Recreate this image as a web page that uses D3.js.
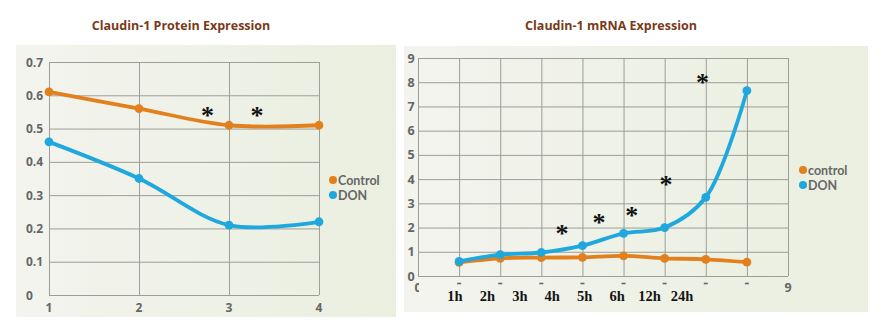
<!DOCTYPE html>
<html>
<head>
<meta charset="utf-8">
<script src="https://cdn.jsdelivr.net/npm/d3@7"></script>
<style>
  html, body { margin: 0; padding: 0; background: #ffffff; }
  svg { display: block; }
</style>
</head>
<body>
<svg id="chart" width="887" height="330"></svg>
<script>
// Claudin-1 protein expression (relative units) over four measurements
const proteinX = [1, 2, 3, 4];
const proteinControl = [0.61, 0.56, 0.51, 0.51];
const proteinDON = [0.46, 0.35, 0.21, 0.22];
const proteinTicksY = [0, 0.1, 0.2, 0.3, 0.4, 0.5, 0.6, 0.7];
const proteinStars = [[2.76, 0.55], [3.31, 0.55]];

// Claudin-1 mRNA expression (fold change) over the time course
const mrnaX = [1, 2, 3, 4, 5, 6, 7, 8];
const mrnaControl = [0.56, 0.73, 0.76, 0.77, 0.83, 0.73, 0.69, 0.57];
const mrnaDON = [0.6, 0.88, 0.97, 1.25, 1.76, 2.0, 3.25, 7.65];
const mrnaTicks = [0, 1, 2, 3, 4, 5, 6, 7, 8, 9];
const timeLabels = ["1h", "2h", "3h", "4h", "5h", "6h", "12h", "24h"];
const mrnaStars = [[3.5, 1.9], [4.4, 2.36], [5.2, 2.66], [6.03, 3.93], [6.92, 8.14]];

const ORANGE = "#e2801e";
const BLUE = "#1ea8dd";
const GRID = "#9c9e97";
const LABEL = "#666666";
const TITLE = "#7a3a18";

const svg = d3.select("#chart");

// panel backgrounds
const defs = svg.append("defs");
const grad = defs.append("linearGradient").attr("id", "panelFill")
  .attr("x1", "0%").attr("x2", "100%").attr("y1", "0%").attr("y2", "0%");
grad.append("stop").attr("offset", "0%").attr("stop-color", "#f3f4ee");
grad.append("stop").attr("offset", "100%").attr("stop-color", "#eaefdf");

svg.append("rect").attr("x", 16).attr("y", 45).attr("width", 380).attr("height", 272)
  .attr("fill", "url(#panelFill)");
svg.append("rect").attr("x", 404).attr("y", 46).attr("width", 464).attr("height", 266)
  .attr("fill", "url(#panelFill)");

// clip for the half-hidden zero on the mRNA x axis
defs.append("clipPath").attr("id", "zeroClip")
  .append("rect").attr("x", 405).attr("y", 275).attr("width", 14).attr("height", 25);

// titles
svg.append("text").attr("x", 181).attr("y", 30).attr("text-anchor", "middle")
  .attr("font-family", "'Open Sans', sans-serif").attr("font-weight", 700)
  .attr("font-size", 12.5).attr("fill", TITLE).text("Claudin-1 Protein Expression");
svg.append("text").attr("x", 611).attr("y", 30).attr("text-anchor", "middle")
  .attr("font-family", "'Open Sans', sans-serif").attr("font-weight", 700)
  .attr("font-size", 12.5).attr("fill", TITLE).text("Claudin-1 mRNA Expression");

function drawStars(g, stars, x, y) {
  g.selectAll("text.star").data(stars).join("text")
    .attr("class", "star")
    .attr("x", d => x(d[0])).attr("y", d => y(d[1]) + 12)
    .attr("text-anchor", "middle")
    .attr("font-family", "'Liberation Serif', serif").attr("font-weight", 700)
    .attr("font-size", 26).attr("fill", "#111").text("*");
}

function drawSeries(g, xs, ys, x, y, color) {
  const pts = xs.map((v, i) => [v, ys[i]]);
  g.append("path").datum(pts)
    .attr("fill", "none").attr("stroke", color).attr("stroke-width", 3.8)
    .attr("stroke-linecap", "round")
    .attr("d", d3.line().x(d => x(d[0])).y(d => y(d[1])).curve(d3.curveCatmullRom.alpha(0.5)));
  g.selectAll(null).data(pts).join("circle")
    .attr("cx", d => x(d[0])).attr("cy", d => y(d[1])).attr("r", 4.4).attr("fill", color);
}

function drawLegend(g, x0, y0, names) {
  const colors = [ORANGE, BLUE];
  names.forEach((n, i) => {
    g.append("circle").attr("cx", x0).attr("cy", y0 + i * 15).attr("r", 4).attr("fill", colors[i]);
    g.append("text").attr("x", x0 + 5).attr("y", y0 + i * 15 + 4.5)
      .attr("font-family", "Lato, sans-serif").attr("font-weight", 700)
      .attr("font-size", 12.5).attr("fill", LABEL).text(n);
  });
}

// ---- Protein chart ----
{
  const x = d3.scaleLinear().domain([1, 4]).range([49, 319]);
  const y = d3.scaleLinear().domain([0, 0.7]).range([295, 62]);
  const g = svg.append("g");

  g.append("g").attr("transform", "translate(49,0)")
    .call(d3.axisLeft(y).tickValues(proteinTicksY).tickSize(-270).tickFormat(""))
    .call(a => a.select(".domain").remove())
    .call(a => a.selectAll("line").attr("stroke", GRID));
  g.append("g").attr("transform", "translate(0,62)")
    .call(d3.axisBottom(x).tickValues(proteinX).tickSize(233).tickFormat(""))
    .call(a => a.select(".domain").remove())
    .call(a => a.selectAll("line").attr("stroke", GRID));

  g.selectAll("text.ylab").data(proteinTicksY).join("text")
    .attr("class", "ylab").attr("x", 26).attr("y", d => y(d) + 4.5)
    .attr("font-family", "'Open Sans', sans-serif").attr("font-weight", 700)
    .attr("font-size", 12).attr("fill", LABEL)
    .text(d => d === 0 ? "0" : d3.format(".1f")(d));
  g.selectAll("text.xlab").data(proteinX).join("text")
    .attr("class", "xlab").attr("x", d => x(d)).attr("y", 312)
    .attr("text-anchor", "middle")
    .attr("font-family", "'Open Sans', sans-serif").attr("font-weight", 700)
    .attr("font-size", 12).attr("fill", LABEL).text(d => d);

  drawSeries(g, proteinX, proteinControl, x, y, ORANGE);
  drawSeries(g, proteinX, proteinDON, x, y, BLUE);
  drawStars(g, proteinStars, x, y);
  drawLegend(g, 333, 180, ["Control", "DON"]);
}

// ---- mRNA chart ----
{
  const x = d3.scaleLinear().domain([0, 9]).range([418, 788]);
  const y = d3.scaleLinear().domain([0, 9]).range([276, 58]);
  const g = svg.append("g");

  g.append("g").attr("transform", "translate(418,0)")
    .call(d3.axisLeft(y).tickValues(mrnaTicks).tickSize(-370).tickFormat(""))
    .call(a => a.select(".domain").remove())
    .call(a => a.selectAll("line").attr("stroke", GRID));
  g.append("g").attr("transform", "translate(0,58)")
    .call(d3.axisBottom(x).tickValues(mrnaTicks).tickSize(218).tickFormat(""))
    .call(a => a.select(".domain").remove())
    .call(a => a.selectAll("line").attr("stroke", GRID));

  g.selectAll("text.ylab").data(mrnaTicks).join("text")
    .attr("class", "ylab").attr("x", 411).attr("y", d => y(d) + 4.5)
    .attr("text-anchor", "middle")
    .attr("font-family", "'Open Sans', sans-serif").attr("font-weight", 700)
    .attr("font-size", 12.5).attr("fill", LABEL).text(d => d);

  // x axis: the zero is cut off, 1-8 show only small marks, 9 is whole
  g.append("text").attr("x", x(0)).attr("y", 292).attr("text-anchor", "middle")
    .attr("clip-path", "url(#zeroClip)")
    .attr("font-family", "'Open Sans', sans-serif").attr("font-weight", 700)
    .attr("font-size", 12.5).attr("fill", LABEL).text("0");
  g.selectAll("line.xmark").data(mrnaX).join("line")
    .attr("class", "xmark")
    .attr("x1", d => x(d) - 2).attr("x2", d => x(d) + 2)
    .attr("y1", 283.5).attr("y2", 283.5)
    .attr("stroke", LABEL).attr("stroke-width", 1.6);
  g.append("text").attr("x", x(9)).attr("y", 292).attr("text-anchor", "middle")
    .attr("font-family", "'Open Sans', sans-serif").attr("font-weight", 700)
    .attr("font-size", 12.5).attr("fill", LABEL).text("9");

  const tl = d3.scalePoint().domain(timeLabels).range([455, 682]);
  g.selectAll("text.tlab").data(timeLabels).join("text")
    .attr("class", "tlab").attr("x", d => tl(d)).attr("y", 301)
    .attr("text-anchor", "middle")
    .attr("font-family", "'Liberation Serif', serif").attr("font-weight", 700)
    .attr("font-size", 14.5).attr("fill", "#141414").text(d => d);

  drawSeries(g, mrnaX, mrnaControl, x, y, ORANGE);
  drawSeries(g, mrnaX, mrnaDON, x, y, BLUE);
  drawStars(g, mrnaStars, x, y);
  drawLegend(g, 803, 170, ["control", "DON"]);
}
</script>
</body>
</html>
